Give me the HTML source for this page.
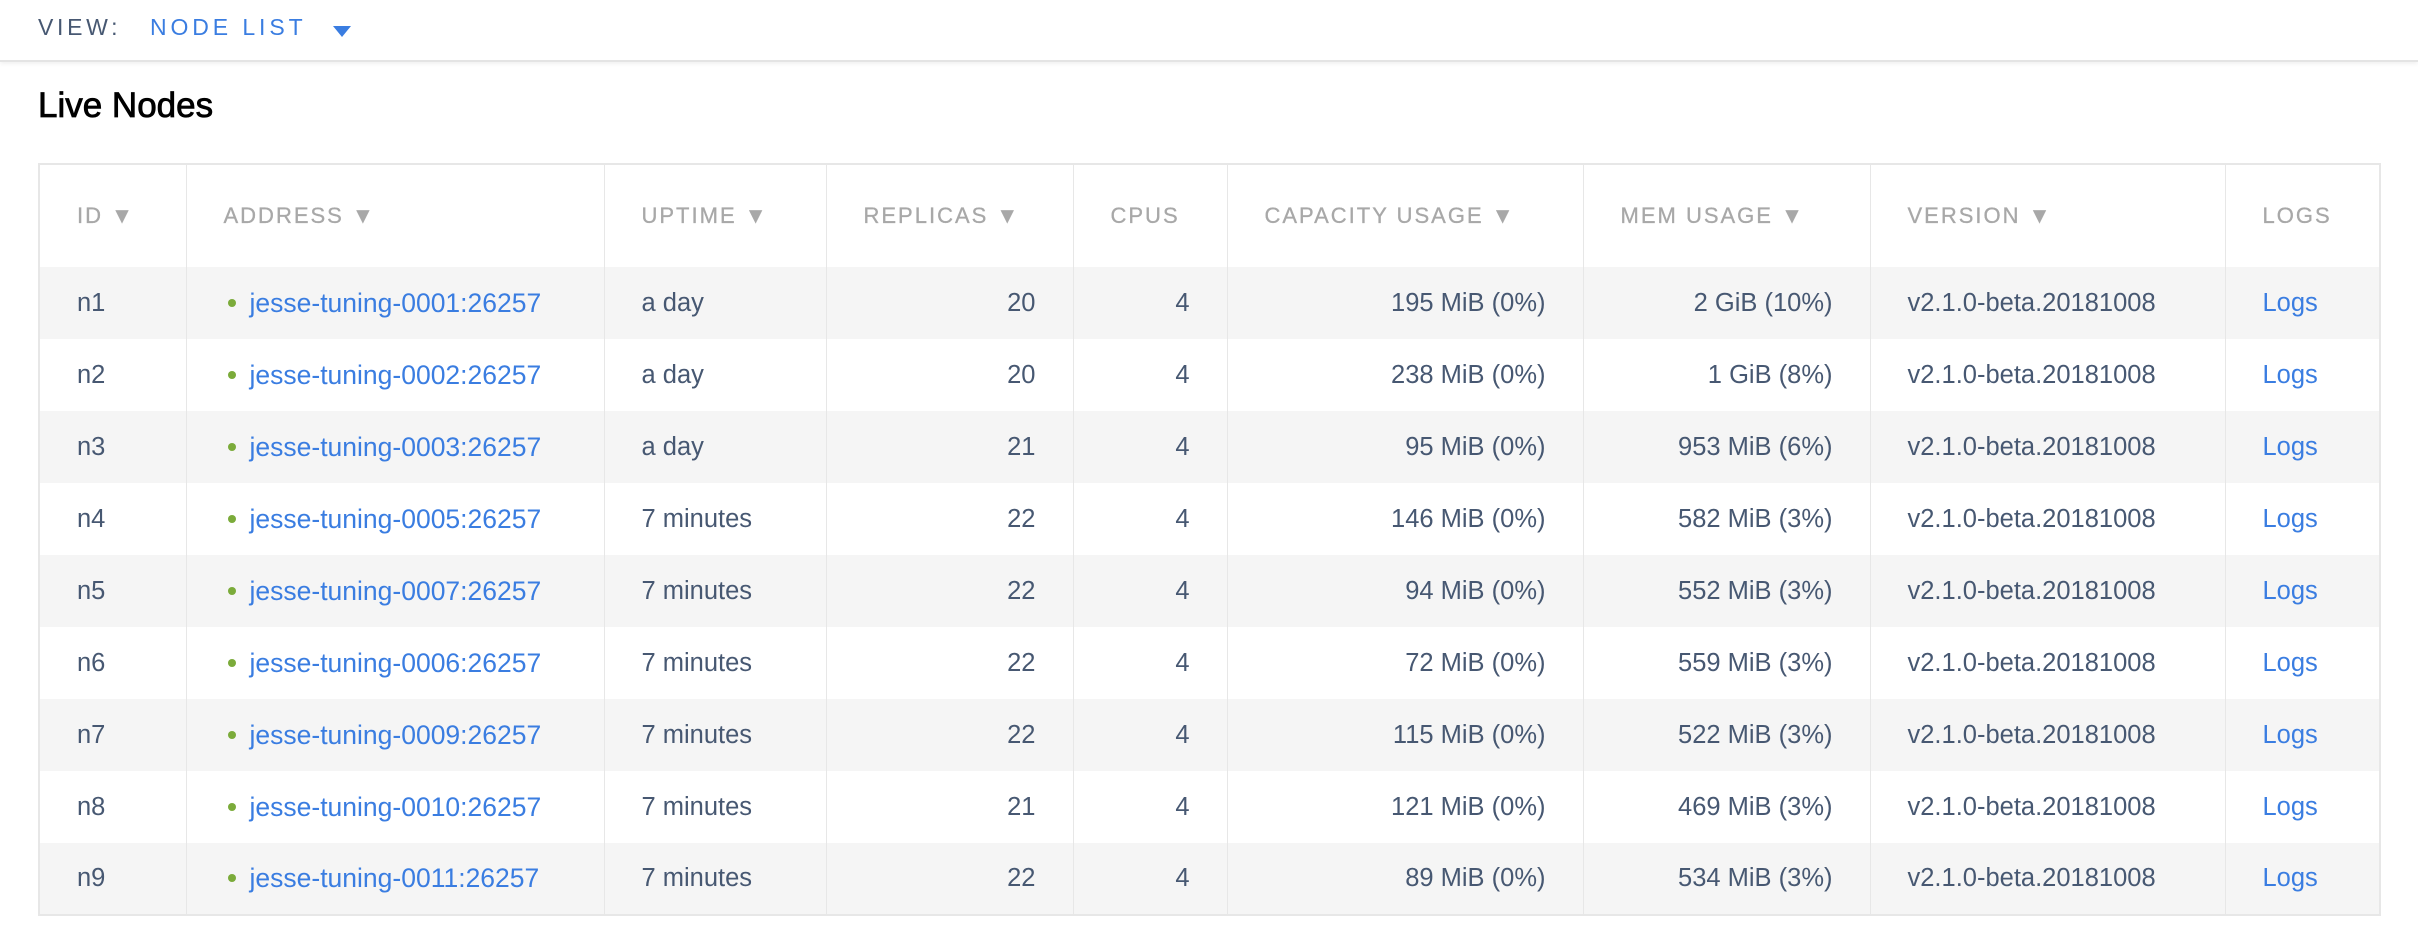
<!DOCTYPE html>
<html><head><meta charset="utf-8"><style>
*{margin:0;padding:0;box-sizing:border-box}
body{width:2418px;height:946px;background:#fff;font-family:"Liberation Sans",sans-serif;position:relative;overflow:hidden;color:#475872}
.bar{position:absolute;left:0;top:0;width:2418px;height:62px;background:#fff;border-bottom:2px solid #e4e4e4;box-shadow:0 2px 4px rgba(0,0,0,.06)}
.view{position:absolute;left:38px;top:14px;font-size:23px;letter-spacing:3.7px;color:#475872}
.nl{position:absolute;left:150px;top:14px;font-size:23px;letter-spacing:3.9px;color:#3a7de1}
.tri{position:absolute;left:333px;top:26px;width:0;height:0;border-left:9px solid transparent;border-right:9px solid transparent;border-top:11px solid #3a7de1}
h1{position:absolute;left:38px;top:86px;font-size:35px;font-weight:normal;color:#000;-webkit-text-stroke:0.8px #000}
table{position:absolute;left:38px;top:163px;border-collapse:collapse;table-layout:fixed;width:2341px;border:2px solid #e7e7e7}
td,th{border-left:1.5px solid #e7e7e7;border-right:1.5px solid #e7e7e7;padding:0 37px;white-space:nowrap;font-size:25.5px;font-weight:normal}
th{height:103px;text-align:left;color:#a8a8a8;font-size:22px;letter-spacing:2px;-webkit-text-stroke:0.3px #a8a8a8}
td{height:72px}
tbody tr:nth-child(odd){background:#f5f5f5}
.r{text-align:right}
a{color:#3a7de1;text-decoration:none}
.ad{font-size:26.5px}
.dot{display:inline-block;width:8px;height:8px;border-radius:50%;background:#7bab3a;margin:0 14px 4px 4px;vertical-align:middle}
</style></head><body>
<div class="bar"></div>
<div class="view">VIEW:</div><div class="nl">NODE LIST</div><div class="tri"></div>
<h1>Live Nodes</h1>
<table>
<colgroup><col style="width:147px"><col style="width:418px"><col style="width:222px"><col style="width:247px"><col style="width:154px"><col style="width:356px"><col style="width:287px"><col style="width:355px"><col style="width:155px"></colgroup>
<thead><tr><th>ID ▼</th><th>ADDRESS ▼</th><th>UPTIME ▼</th><th>REPLICAS ▼</th><th>CPUS</th><th>CAPACITY USAGE ▼</th><th>MEM USAGE ▼</th><th>VERSION ▼</th><th>LOGS</th></tr></thead>
<tbody>
<tr><td>n1</td><td class="ad"><span class="dot"></span><a>jesse-tuning-0001:26257</a></td><td>a day</td><td class="r">20</td><td class="r">4</td><td class="r">195 MiB (0%)</td><td class="r">2 GiB (10%)</td><td>v2.1.0-beta.20181008</td><td><a>Logs</a></td></tr>
<tr><td>n2</td><td class="ad"><span class="dot"></span><a>jesse-tuning-0002:26257</a></td><td>a day</td><td class="r">20</td><td class="r">4</td><td class="r">238 MiB (0%)</td><td class="r">1 GiB (8%)</td><td>v2.1.0-beta.20181008</td><td><a>Logs</a></td></tr>
<tr><td>n3</td><td class="ad"><span class="dot"></span><a>jesse-tuning-0003:26257</a></td><td>a day</td><td class="r">21</td><td class="r">4</td><td class="r">95 MiB (0%)</td><td class="r">953 MiB (6%)</td><td>v2.1.0-beta.20181008</td><td><a>Logs</a></td></tr>
<tr><td>n4</td><td class="ad"><span class="dot"></span><a>jesse-tuning-0005:26257</a></td><td>7 minutes</td><td class="r">22</td><td class="r">4</td><td class="r">146 MiB (0%)</td><td class="r">582 MiB (3%)</td><td>v2.1.0-beta.20181008</td><td><a>Logs</a></td></tr>
<tr><td>n5</td><td class="ad"><span class="dot"></span><a>jesse-tuning-0007:26257</a></td><td>7 minutes</td><td class="r">22</td><td class="r">4</td><td class="r">94 MiB (0%)</td><td class="r">552 MiB (3%)</td><td>v2.1.0-beta.20181008</td><td><a>Logs</a></td></tr>
<tr><td>n6</td><td class="ad"><span class="dot"></span><a>jesse-tuning-0006:26257</a></td><td>7 minutes</td><td class="r">22</td><td class="r">4</td><td class="r">72 MiB (0%)</td><td class="r">559 MiB (3%)</td><td>v2.1.0-beta.20181008</td><td><a>Logs</a></td></tr>
<tr><td>n7</td><td class="ad"><span class="dot"></span><a>jesse-tuning-0009:26257</a></td><td>7 minutes</td><td class="r">22</td><td class="r">4</td><td class="r">115 MiB (0%)</td><td class="r">522 MiB (3%)</td><td>v2.1.0-beta.20181008</td><td><a>Logs</a></td></tr>
<tr><td>n8</td><td class="ad"><span class="dot"></span><a>jesse-tuning-0010:26257</a></td><td>7 minutes</td><td class="r">21</td><td class="r">4</td><td class="r">121 MiB (0%)</td><td class="r">469 MiB (3%)</td><td>v2.1.0-beta.20181008</td><td><a>Logs</a></td></tr>
<tr><td>n9</td><td class="ad"><span class="dot"></span><a>jesse-tuning-0011:26257</a></td><td>7 minutes</td><td class="r">22</td><td class="r">4</td><td class="r">89 MiB (0%)</td><td class="r">534 MiB (3%)</td><td>v2.1.0-beta.20181008</td><td><a>Logs</a></td></tr>
</tbody></table>
</body></html>
